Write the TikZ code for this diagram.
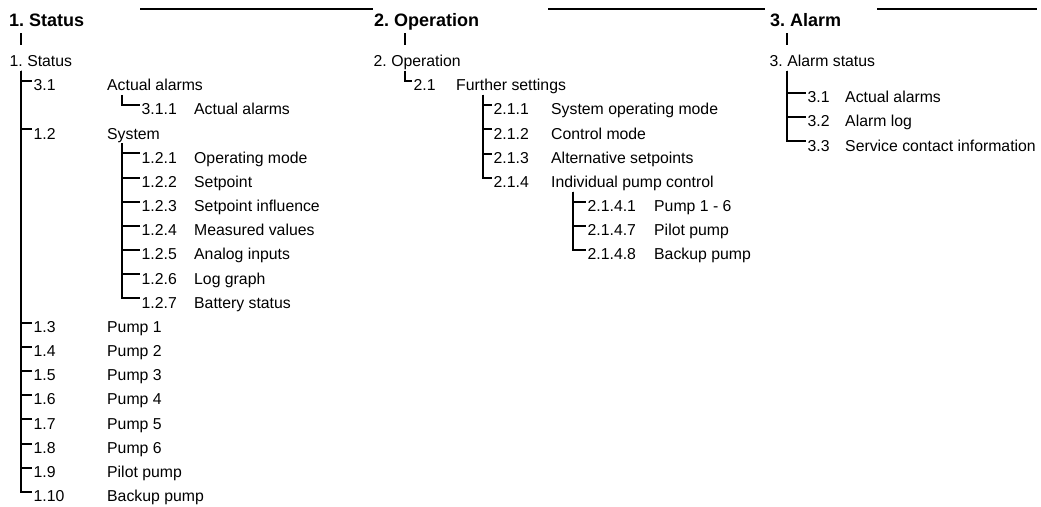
\documentclass[tikz,border=0pt]{standalone}
\usepackage{fontspec}
\setmainfont{Liberation Sans}
\frenchspacing

\tikzset{
  head/.style={anchor=base west, inner sep=0pt, text depth=0pt,
    font=\fontsize{18}{21}\selectfont\bfseries},
  entry/.style={anchor=base west, inner sep=0pt, text height=9.5pt,
    text depth=4pt, font=\fontsize{15.8}{18}\selectfont},
  branch/.style={line width=2pt, shorten >=1.5pt},
  rule/.style={line width=2pt},
}

\begin{document}
\begin{tikzpicture}[x=1pt, y=-1pt]
  \useasboundingbox (0,0) rectangle (1041,506);

  % header rules
  \draw[rule] (140,9) -- (373,9);
  \draw[rule] (548,9) -- (765,9);
  \draw[rule] (877,9) -- (1037,9);

  % 1. Status
  \node[head] (h1) at (9,26) {1. Status};
  \node[entry] (s1) at (9.5,66.5) {1. Status};
  \coordinate (c1) at ([xshift=11.5pt]s1.south west);
  \draw[rule] (c1 |- h1.south) ++(0,7) -- ++(0,12);

  \node[entry] (a1) at (33.5,90.7) {3.1};
  \node[entry] (a1t) at (107,90.7) {Actual alarms};
  \draw[branch] (c1) |- (a1.north west);
  \coordinate (c11) at ([xshift=15pt]a1t.south west);
  \node[entry] (a11) at (141.5,114.8) {3.1.1};
  \node[entry] (a11t) at (194,114.8) {Actual alarms};
  \draw[branch] (c11) |- (a11.north west);

  \node[entry] (sys) at (33.5,139) {1.2};
  \node[entry] (syst) at (107,139) {System};
  \draw[branch] (c1) |- (sys.north west);
  \coordinate (c12) at ([xshift=15pt]syst.south west);
  \foreach \t [count=\k] in {Operating mode, Setpoint, Setpoint influence,
      Measured values, Analog inputs, Log graph, Battery status}{
    \node[entry] (sys\k) at (141.5,{139+24.17*\k}) {1.2.\k};
    \node[entry] (syst\k) at (194,{139+24.17*\k}) {\t};
    \draw[branch] (c12) |- (sys\k.north west);
  }

  \foreach \n/\t [count=\k from 11] in {3/Pump 1, 4/Pump 2, 5/Pump 3, 6/Pump 4,
      7/Pump 5, 8/Pump 6, 9/Pilot pump, 10/Backup pump}{
    \node[entry] (p\n) at (33.5,{66.5+24.17*\k}) {1.\n};
    \node[entry] (pt\n) at (107,{66.5+24.17*\k}) {\t};
    \draw[branch] (c1) |- (p\n.north west);
  }

  % 2. Operation
  \node[head] (h2) at (374,26) {2. Operation};
  \node[entry] (s2) at (373.5,66.5) {2. Operation};
  \coordinate (c2) at ([xshift=31.5pt]s2.south west);
  \draw[rule] (c2 |- h2.south) ++(0,7) -- ++(0,12);

  \node[entry] (fs) at (413.5,90.7) {2.1};
  \node[entry] (fst) at (456,90.7) {Further settings};
  \draw[branch] (c2) |- (fs.north west);
  \coordinate (c21) at ([xshift=27pt]fst.south west);
  \foreach \t [count=\k] in {System operating mode, Control mode,
      Alternative setpoints, Individual pump control}{
    \node[entry] (fs\k) at (493.5,{90.7+24.17*\k}) {2.1.\k};
    \node[entry] (fst\k) at (551,{90.7+24.17*\k}) {\t};
    \draw[branch] (c21) |- (fs\k.north west);
  }
  \coordinate (c214) at ([xshift=22pt]fst4.south west);
  \foreach \n/\t [count=\k] in {1/Pump 1 - 6, 7/Pilot pump, 8/Backup pump}{
    \node[entry] (ip\n) at (587.5,{187.4+24.17*\k}) {2.1.4.\n};
    \node[entry] (ipt\n) at (654,{187.4+24.17*\k}) {\t};
    \draw[branch] (c214) |- (ip\n.north west);
  }

  % 3. Alarm
  \node[head] (h3) at (770,26) {3. Alarm};
  \node[entry] (s3) at (769.5,66.5) {3. Alarm status};
  \coordinate (c3) at ([xshift=17.5pt]s3.south west);
  \draw[rule] (c3 |- h3.south) ++(0,7) -- ++(0,12);

  \foreach \t [count=\k] in {Actual alarms, Alarm log, Service contact information}{
    \node[entry] (al\k) at (807.5,{78.6+24.17*\k}) {3.\k};
    \node[entry] (alt\k) at (845,{78.6+24.17*\k}) {\t};
    \draw[branch] (c3) |- (al\k.north west);
  }
\end{tikzpicture}
\end{document}
